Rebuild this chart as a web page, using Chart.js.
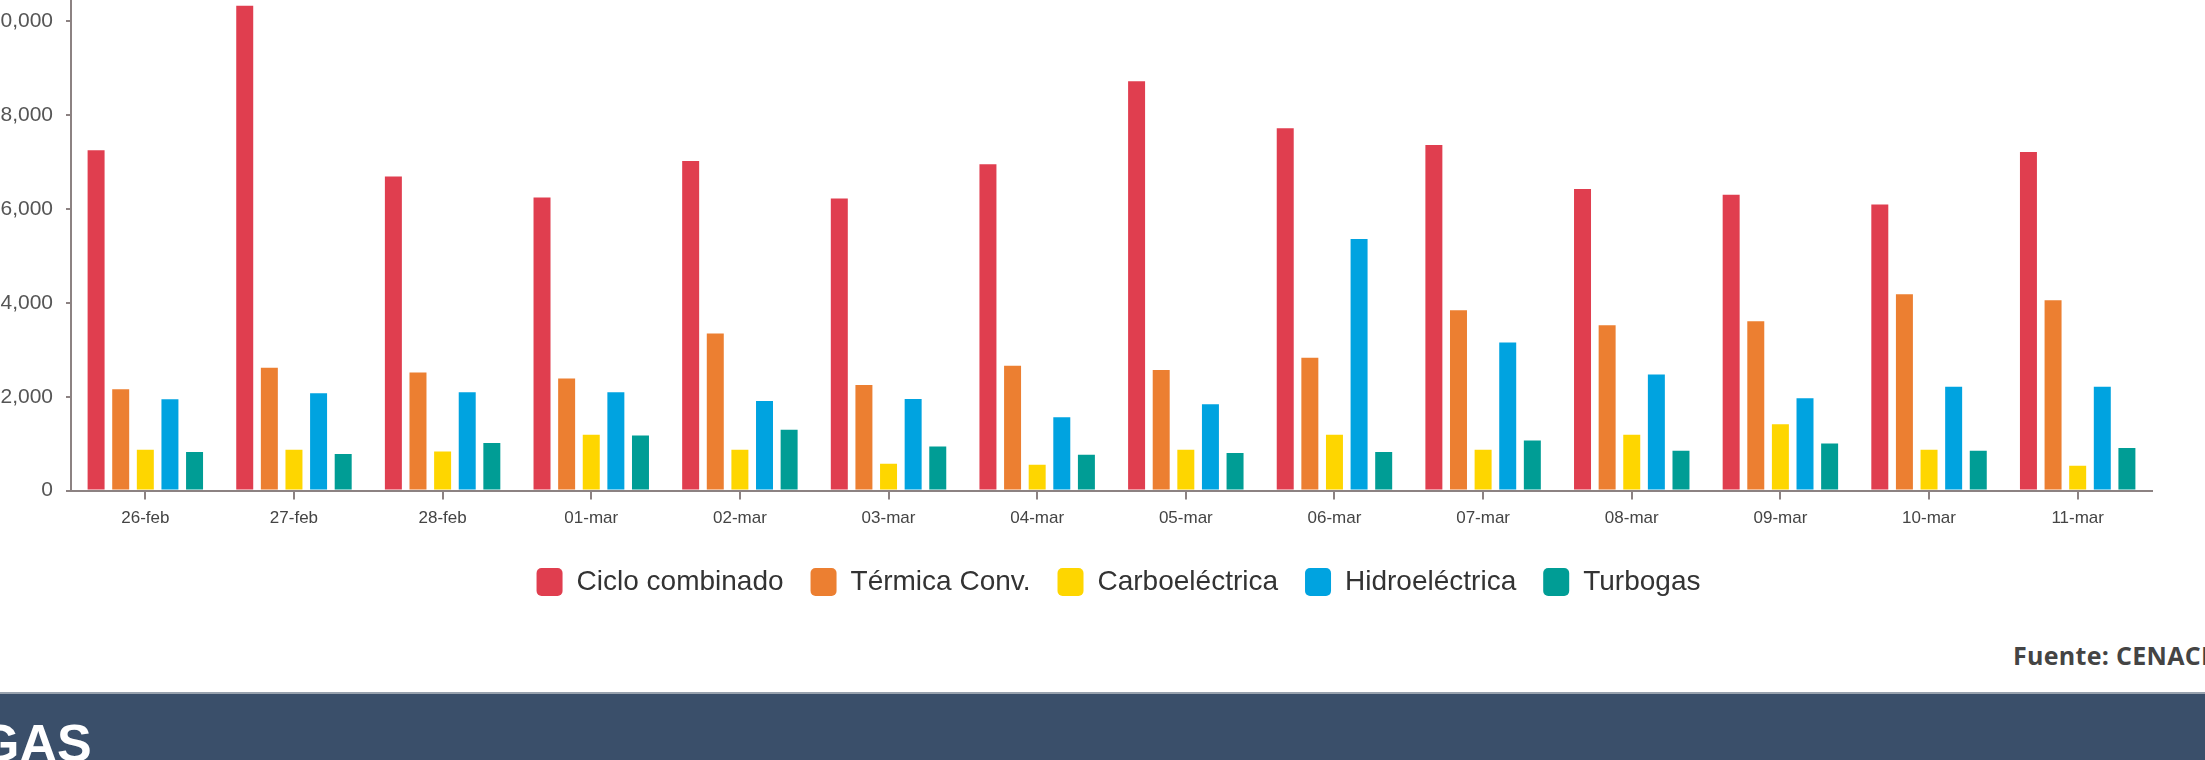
<!DOCTYPE html>
<html>
<head>
<meta charset="utf-8">
<script src="https://cdn.jsdelivr.net/npm/chart.js@4/dist/chart.umd.min.js"></script>
<style>
  html, body { margin:0; padding:0; width:2205px; height:760px; overflow:hidden; background:#fff; position:relative; }
  #c { position:absolute; left:-20px; top:-98px; }
  #fuente { position:absolute; left:2013px; top:638px; font-family:"Open Sans","Noto Sans",sans-serif; font-weight:700; font-size:25px; color:#444; white-space:nowrap; letter-spacing:0.3px; }
  #band { position:absolute; left:0; top:692px; width:2205px; height:68px; background:#3A4F6A; border-top:2px solid #98a2ae; box-sizing:border-box; overflow:hidden; }
  #gas { position:absolute; left:-21px; top:717px; font-family:"Liberation Sans",Arial,sans-serif; font-weight:700; font-size:52px; color:#fff; white-space:nowrap; line-height:1; }
</style>
</head>
<body>
<canvas id="c" width="2274" height="704"></canvas>
<div id="fuente">Fuente: CENACE</div>
<div id="band"></div>
<div id="gas">GAS</div>
<script>
const categories = ["26-feb","27-feb","28-feb","01-mar","02-mar","03-mar","04-mar","05-mar","06-mar","07-mar","08-mar","09-mar","10-mar","11-mar"];
const seriesNames = ["Ciclo combinado","Térmica Conv.","Carboeléctrica","Hidroeléctrica","Turbogas"];
const cicloCombinado = [7254,10332,6695,6249,7027,6228,6957,8726,7721,7367,6426,6306,6100,7219];
const termicaConv    = [2158,2618,2519,2392,3347,2250,2661,2569,2831,3843,3524,3609,4183,4055];
const carboelectrica = [870,870,835,1189,870,573,552,870,1189,870,1189,1415,870,531];
const hidroelectrica = [1946,2074,2095,2095,1911,1953,1564,1840,5364,3156,2477,1967,2215,2215];
const turbogas       = [821,778,1012,1175,1295,941,764,800,821,1069,849,1005,849,906];
const colors = ["#E03E4F","#EC7F31","#FED600","#00A3E0","#009D95"];
const yTickValues = [0,2000,4000,6000,8000,10000,12000];

const allSeries = [cicloCombinado, termicaConv, carboelectrica, hidroelectrica, turbogas];
const datasets = allSeries.map((d,i)=>({
  label: seriesNames[i],
  data: d,
  backgroundColor: colors[i],
  borderWidth: 0,
  categoryPercentage: 0.828,
  barPercentage: 0.69
}));

const legendShift = {
  id: 'legendShift',
  afterLayout(chart) {
    const lg = chart.legend;
    if (lg) { lg.left += 7; lg.right += 7; }
  }
};

const axisColor = "#8c8282";
new Chart(document.getElementById('c'), {
  type: 'bar',
  data: { labels: categories, datasets },
  plugins: [legendShift],
  options: {
    responsive: false,
    animation: false,
    devicePixelRatio: 1,
    layout: { padding: { top: 24, right: 102, left: 0, bottom: 0 } },
    plugins: {
      tooltip: { enabled: false },
      legend: {
        position: 'bottom',
        fullSize: false,
        labels: {
          font: { family: "'Liberation Sans', Arial, sans-serif", size: 28 },
          color: '#333',
          boxWidth: 26,
          boxHeight: 28,
          padding: 27,
          useBorderRadius: true,
          borderRadius: 5
        }
      }
    },
    scales: {
      x: {
        afterFit: (s) => { s.height += 3; },
        grid: { display: true, drawOnChartArea: false, offset: false, drawTicks: true, tickLength: 9, color: axisColor, lineWidth: 2 },
        border: { display: true, color: axisColor, width: 2 },
        ticks: { font: { family: "'Liberation Sans', Arial, sans-serif", size: 17 }, color: '#444', padding: 9, maxRotation: 0, autoSkip: false }
      },
      y: {
        min: 0, max: 12000,
        afterBuildTicks: (s) => { s.ticks = yTickValues.map(v => ({ value: v })); },
        afterFit: (s) => { s.width = 91; },
        grid: { display: true, drawOnChartArea: false, drawTicks: true, tickLength: 5, color: axisColor, lineWidth: 2 },
        border: { display: true, color: axisColor, width: 2 },
        ticks: {
          font: { family: "'Liberation Sans', Arial, sans-serif", size: 21 }, color: '#555', padding: 13,
          callback: (v) => Number(v).toLocaleString('en-US')
        }
      }
    }
  }
});
</script>
</body>
</html>
